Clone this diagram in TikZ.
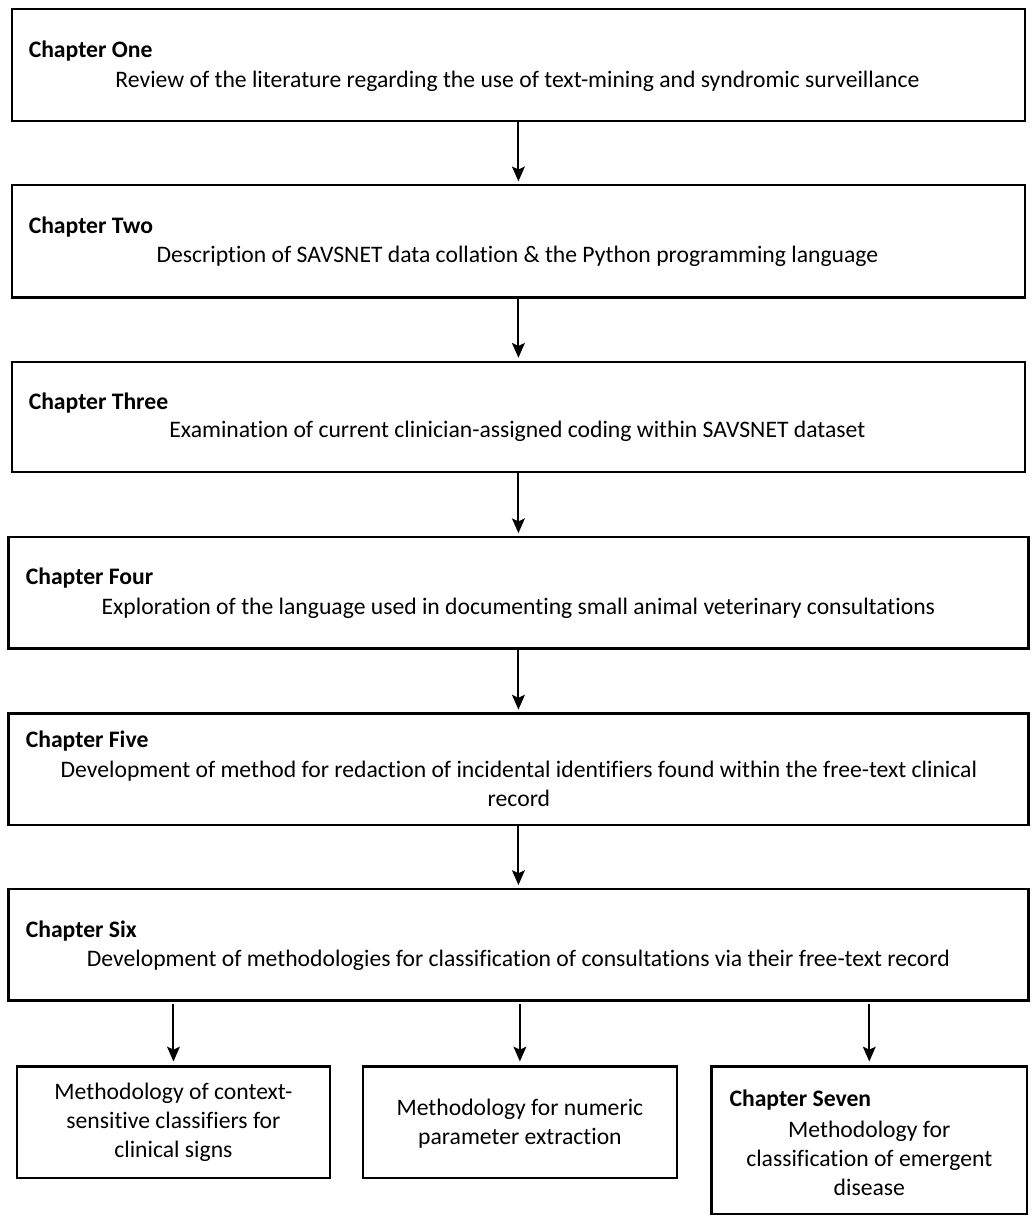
\documentclass[tikz,border=0pt]{standalone}
\usepackage{fontspec}
\setmainfont{Carlito}[Ligatures=NoCommon]
\usetikzlibrary{arrows.meta}
\begin{document}
\begin{tikzpicture}[x=1pt,y=-1pt,
  frame/.style={draw=black, line width=2.4pt, inner sep=0pt, outer sep=0pt, anchor=north west},
  head/.style={font=\fontsize{24}{29.3}\selectfont\bfseries, anchor=west, inner sep=0pt},
  body/.style={font=\fontsize{24}{29.3}\selectfont, inner sep=0pt, align=center},
  arr/.style={line width=2pt, -{Stealth[length=15pt,width=13pt,inset=3pt]}, shorten >=4pt},
]
\useasboundingbox[fill=white] (0,0) rectangle (1050,1249);

% chapter frames
\node[frame, minimum width=1028pt, minimum height=114pt] (b1) at (12,9) {};
\node[frame, minimum width=1028pt, minimum height=114pt] (b2) at (12,188) {};
\node[frame, minimum width=1028pt, minimum height=112pt] (b3) at (12,367) {};
\node[frame, minimum width=1035pt, minimum height=113pt] (b4) at (8.5,545) {};
\node[frame, minimum width=1035pt, minimum height=113pt] (b5) at (8.5,724) {};
\node[frame, minimum width=1035pt, minimum height=113pt] (b6) at (8.5,902) {};

% chapter titles and descriptions
\node[head] (h1) at (29,52) {Chapter One};
\node[body] (t1) at (525,83) {Review of the literature regarding the use of text-mining and syndromic surveillance};
\node[head] (h2) at (29,230) {Chapter Two};
\node[body] (t2) at (525,260) {Description of SAVSNET data collation \& the Python programming language};
\node[head] (h3) at (29,409) {Chapter Three};
\node[body] (t3) at (525,438) {Examination of current clinician-assigned coding within SAVSNET dataset};
\node[head] (h4) at (26,587) {Chapter Four};
\node[body] (t4) at (526,617) {Exploration of the language used in documenting small animal veterinary consultations};
\node[head] (h5) at (26,752) {Chapter Five};
\node[body] (t5) at (526.5,795.5) {Development of method for redaction of incidental identifiers found within the free-text clinical\\record};
\node[head] (h6) at (26,945) {Chapter Six};
\node[body] (t6) at (526,974) {Development of methodologies for classification of consultations via their free-text record};

% sub-studies of chapter six
\node[frame, minimum width=318pt, minimum height=113pt] (l) at (17,1082) {};
\node[body] (lt) at (176,1139) {Methodology of context-\\sensitive classifiers for\\clinical signs};
\node[frame, minimum width=319pt, minimum height=113pt] (m) at (368,1082) {};
\node[body] (mt) at (527.5,1140) {Methodology for numeric\\parameter extraction};
\node[frame, minimum width=320pt, minimum height=150pt] (r) at (722,1082) {};
\node[head] (h7) at (740,1116) {Chapter Seven};
\node[body] (rt) at (882,1175) {Methodology for\\classification of emergent\\disease};

% flow
\draw[arr] (b1.south) -- (b2.north);
\draw[arr] (b2.south) -- (b3.north);
\draw[arr] (b3.south) -- (b4.north);
\draw[arr] (b4.south) -- (b5.north);
\draw[arr] (b5.south) -- (b6.north);
\draw[arr, shorten <=4pt, shorten >=5pt] (b6.south -| l.north) -- (l.north);
\draw[arr, shorten <=4pt, shorten >=5pt] (b6.south -| m.north) -- (m.north);
\draw[arr, shorten <=4pt, shorten >=5pt] (b6.south -| r.north) -- (r.north);
\end{tikzpicture}
\end{document}
